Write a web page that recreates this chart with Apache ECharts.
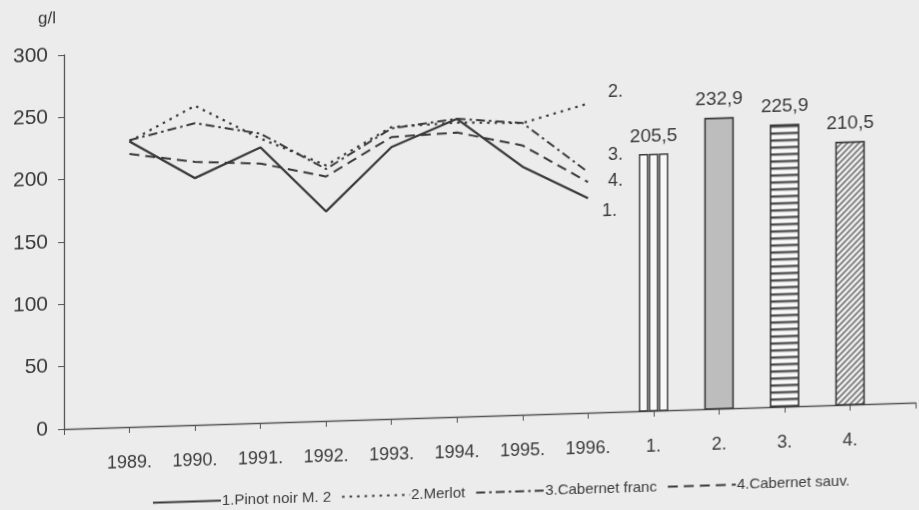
<!DOCTYPE html>
<html>
<head>
<meta charset="utf-8">
<script src="https://cdn.jsdelivr.net/npm/echarts@6/dist/echarts.min.js"></script>
<style>
  html, body { margin: 0; padding: 0; background: #ececec; overflow: hidden; }
  #chart {
    width: 919px; height: 510px;
    transform: skewY(-1.78deg);
    transform-origin: 64px 429px;
  }
</style>
</head>
<body>
<div id="chart"></div>
<script>
// Sugar content (g/l) by vintage, 1989-1996, and the 8-year averages
const years = ['1989.', '1990.', '1991.', '1992.', '1993.', '1994.', '1995.', '1996.'];
const avgLabels = ['1.', '2.', '3.', '4.'];
const categories = [''].concat(years, avgLabels, ['']);

const pinotNoir     = [229, 198, 221, 168, 218, 239, 199, 172];
const merlot        = [229, 256, 228, 205, 234, 236, 234, 248];
const cabernetFranc = [230, 242, 232, 202, 233, 239, 234, 193];
const cabernetSauv  = [219, 211, 208, 196, 226, 228, 216, 185];

const averages = [205.5, 232.9, 225.9, 210.5];

const seriesNames = ['1.Pinot noir M. 2', '2.Merlot', '3.Cabernet franc', '4.Cabernet sauv.'];
const endTags = ['1.', '2.', '3.', '4.'];

const yMin = 0, yMax = 300, yStep = 50;

const FONT = "'Liberation Sans', Arial, sans-serif";
const INK = '#3a3a3a';

function pairs(values) { return values.map((v, i) => [years[i], v]); }

// Hatch fills for the average bars
function stripePattern() {
  const c = document.createElement('canvas');
  c.width = 8; c.height = 7;
  const g = c.getContext('2d');
  g.fillStyle = '#f8f8f8'; g.fillRect(0, 0, 8, 7);
  g.fillStyle = '#4a4a4a'; g.fillRect(0, 0, 8, 2.4);
  return c;
}
function diagonalPattern() {
  const c = document.createElement('canvas');
  c.width = 6; c.height = 6;
  const g = c.getContext('2d');
  g.fillStyle = '#f8f8f8'; g.fillRect(0, 0, 6, 6);
  g.strokeStyle = '#4a4a4a'; g.lineWidth = 1.4;
  g.beginPath();
  g.moveTo(-1, 7); g.lineTo(7, -1);
  g.moveTo(-1, 1); g.lineTo(1, -1);
  g.moveTo(5, 7); g.lineTo(7, 5);
  g.stroke();
  return c;
}
const barFills = [
  null,
  '#bdbdbd',
  { image: stripePattern(), repeat: 'repeat' },
  { image: diagonalPattern(), repeat: 'repeat' }
];

function fmt(v) { return v.toFixed(1).replace('.', ','); }

const lineDefs = [
  { data: pinotNoir,     type: 'solid',        width: 2.3, tagOffset: [6, 13] },
  { data: merlot,        type: [2.5, 5],       width: 2.2, tagOffset: [12, -11] },
  { data: cabernetFranc, type: [9, 4, 2.5, 4], width: 2.0, tagOffset: [12, -16] },
  { data: cabernetSauv,  type: [10, 6],        width: 2.0, tagOffset: [12, 0] }
];

const lineSeries = lineDefs.map((d, i) => ({
  name: seriesNames[i],
  type: 'line',
  data: pairs(d.data),
  symbol: 'none',
  color: INK,
  lineStyle: { color: INK, width: d.width, type: d.type },
  endLabel: {
    show: true,
    formatter: endTags[i],
    offset: d.tagOffset,
    fontSize: 18,
    fontFamily: FONT,
    color: INK
  },
  z: 3
}));

const barSeries = {
  name: 'averages',
  type: 'custom',
  data: avgLabels.map((c, i) => [c, averages[i]]),
  encode: { x: 0, y: 1 },
  renderItem: function (params, api) {
    const idx = api.value(0);
    const v = api.value(1);
    const top = api.coord([idx, v]);
    const base = api.coord([idx, 0]);
    const w = 28;
    const h = base[1] - top[1];
    const k = params.dataIndex;
    const children = [];
    if (k === 0) {
      for (let i = 0; i < 3; i++) {
        children.push({
          type: 'rect',
          shape: { x: i * 10, y: 0, width: 8, height: h },
          style: { fill: '#f8f8f8', stroke: INK, lineWidth: 1.4 }
        });
      }
    } else {
      children.push({
        type: 'rect',
        shape: { x: 0, y: 0, width: w, height: h },
        style: { fill: barFills[k], stroke: INK, lineWidth: 1.6 }
      });
    }
    children.push({
      type: 'text',
      style: {
        text: fmt(v), x: w / 2, y: -9,
        align: 'center', verticalAlign: 'bottom',
        font: '19px ' + FONT, fill: INK
      }
    });
    return { type: 'group', x: top[0] - w / 2, y: top[1], children: children };
  },
  z: 2
};

const chart = echarts.init(document.getElementById('chart'), null, { renderer: 'canvas' });
chart.setOption({
  backgroundColor: 'transparent',
  animation: false,
  textStyle: { fontFamily: FONT },
  grid: { left: 64, right: -7, top: 55, bottom: 81, containLabel: false },
  legend: {
    data: seriesNames,
    left: 147, top: 493,
    itemWidth: 68, itemHeight: 10, itemGap: 10,
    itemStyle: { opacity: 0 },
    textStyle: { fontSize: 15, color: INK, fontFamily: FONT, padding: [0, 0, 0, -4] },
    selectedMode: false
  },
  xAxis: {
    type: 'category',
    data: categories,
    boundaryGap: false,
    axisLine: { lineStyle: { color: '#555', width: 1.3 } },
    axisTick: { show: true, length: 6, alignWithLabel: true, lineStyle: { color: '#555' } },
    axisLabel: { interval: 0, fontSize: 18, color: INK, margin: 27, fontFamily: FONT },
    splitLine: { show: false }
  },
  yAxis: {
    type: 'value',
    min: yMin, max: yMax, interval: yStep,
    name: 'g/l',
    nameLocation: 'end',
    nameGap: 28,
    nameTextStyle: { fontSize: 17, color: INK, align: 'right', padding: [0, 8, 0, 0], fontFamily: FONT },
    axisLine: { show: true, lineStyle: { color: '#555', width: 1.3 } },
    axisTick: { show: true, length: 6, lineStyle: { color: '#555' } },
    axisLabel: { fontSize: 21, color: INK, margin: 16, fontFamily: FONT },
    splitLine: { show: false }
  },
  series: lineSeries.concat([barSeries])
});
</script>
</body>
</html>
